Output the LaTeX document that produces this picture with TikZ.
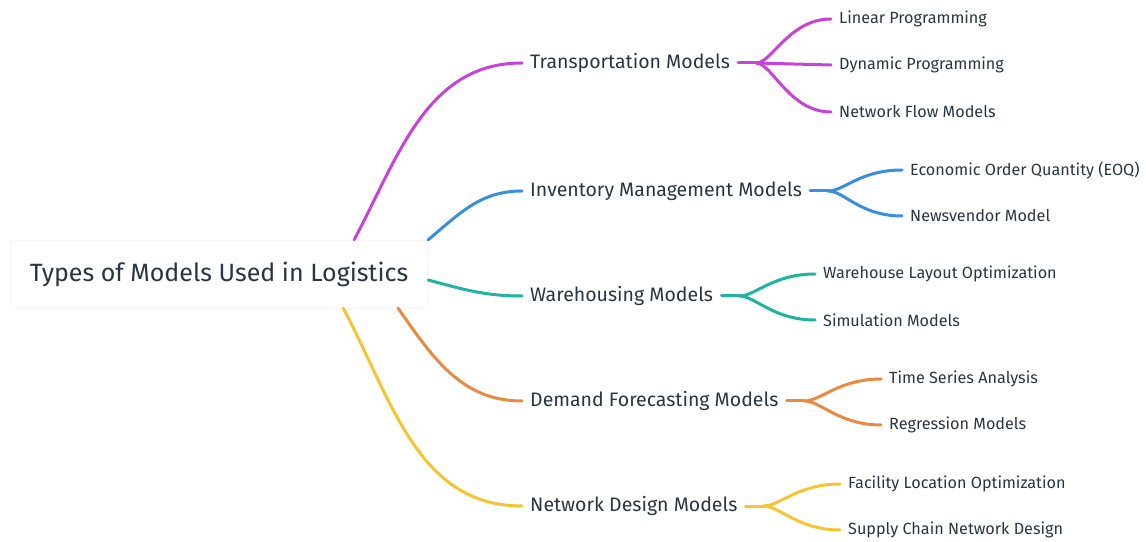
\documentclass[tikz,border=0pt]{standalone}
\usepackage{fontspec}
\setmainfont{Fira Sans}
\usepackage{xcolor}
\usetikzlibrary{positioning,calc}
\definecolor{txt}{HTML}{2A3540}
\definecolor{cpurple}{HTML}{C743D6}
\definecolor{cblue}{HTML}{3A8EE0}
\definecolor{cteal}{HTML}{1FB3A0}
\definecolor{corange}{HTML}{EB8A3E}
\definecolor{cyellow}{HTML}{F5C430}

\begin{document}
\begin{tikzpicture}[x=1pt,y=1pt,line cap=round,
   rootbox/.style={draw=black!4,fill=white,minimum width=418pt,minimum height=68pt,
     text=txt,font=\fontsize{25}{29}\selectfont},
   cat/.style={anchor=west,inner xsep=8pt,inner ysep=0pt,text=txt,font=\fontsize{19.5}{23}\selectfont},
   leaf/.style={anchor=west,inner xsep=8pt,inner ysep=0pt,text=txt,font=\fontsize{16.2}{19}\selectfont},
   br/.style={line width=3pt}]
  \useasboundingbox (0,0) rectangle (1146,541);
  \node[rootbox] (root) at (219,267) {Types of Models Used in Logistics};
  % first level
  \node[cat] (tr)  at (522,478) {Transportation Models};
  \node[cat] (inv) at (522,350) {Inventory Management Models};
  \node[cat] (wh)  at (522,245) {Warehousing Models};
  \node[cat] (dem) at (522,140) {Demand Forecasting Models};
  \node[cat] (net) at (522,35)  {Network Design Models};
  \draw[br,cpurple] ($(root.north west)!0.823!(root.north east)$) to[out=62,in=180] (tr.west);
  \draw[br,cblue] (root.north east) to[out=40,in=180] (inv.west);
  \draw[br,cteal] ($(root.east)+(0,-6)$) to[out=-15,in=180] (wh.west);
  \draw[br,corange] ($(root.south west)!0.928!(root.south east)$) to[out=-55,in=180] (dem.west);
  \draw[br,cyellow] ($(root.south west)!0.797!(root.south east)$) to[out=-62,in=180] (net.west);
  % transportation
  \node[leaf] (lp) at (831,522) {Linear Programming};
  \node[leaf] (dp) at (831,476) {Dynamic Programming};
  \node[leaf] (nf) at (831,429) {Network Flow Models};
  \draw[br,cpurple] (tr.east) -- ++(18,0) coordinate (trf);
  \draw[br,cpurple] (trf) .. controls +(16,0) and +(-42,0) .. (lp.west);
  \draw[br,cpurple] (trf) -- (dp.west);
  \draw[br,cpurple] (trf) .. controls +(16,0) and +(-42,0) .. (nf.west);
  % inventory
  \node[leaf] (eoq) at (902,371) {Economic Order Quantity (EOQ)};
  \node[leaf] (nv)  at (902,325) {Newsvendor Model};
  \draw[br,cblue] (inv.east) -- ++(18,0) coordinate (invf);
  \draw[br,cblue] (invf) .. controls +(16,0) and +(-42,0) .. (eoq.west);
  \draw[br,cblue] (invf) .. controls +(16,0) and +(-42,0) .. (nv.west);
  % warehousing
  \node[leaf] (wl) at (815,267) {Warehouse Layout Optimization};
  \node[leaf] (sm) at (815,221) {Simulation Models};
  \draw[br,cteal] (wh.east) -- ++(18,0) coordinate (whf);
  \draw[br,cteal] (whf) .. controls +(16,0) and +(-42,0) .. (wl.west);
  \draw[br,cteal] (whf) .. controls +(16,0) and +(-42,0) .. (sm.west);
  % demand forecasting
  \node[leaf] (ts) at (881,162) {Time Series Analysis};
  \node[leaf] (rm) at (881,116) {Regression Models};
  \draw[br,corange] (dem.east) -- ++(18,0) coordinate (demf);
  \draw[br,corange] (demf) .. controls +(16,0) and +(-42,0) .. (ts.west);
  \draw[br,corange] (demf) .. controls +(16,0) and +(-42,0) .. (rm.west);
  % network design
  \node[leaf] (fl) at (840,57) {Facility Location Optimization};
  \node[leaf] (sc) at (840,11) {Supply Chain Network Design};
  \draw[br,cyellow] (net.east) -- ++(18,0) coordinate (netf);
  \draw[br,cyellow] (netf) .. controls +(16,0) and +(-42,0) .. (fl.west);
  \draw[br,cyellow] (netf) .. controls +(16,0) and +(-42,0) .. (sc.west);
\end{tikzpicture}
\end{document}
